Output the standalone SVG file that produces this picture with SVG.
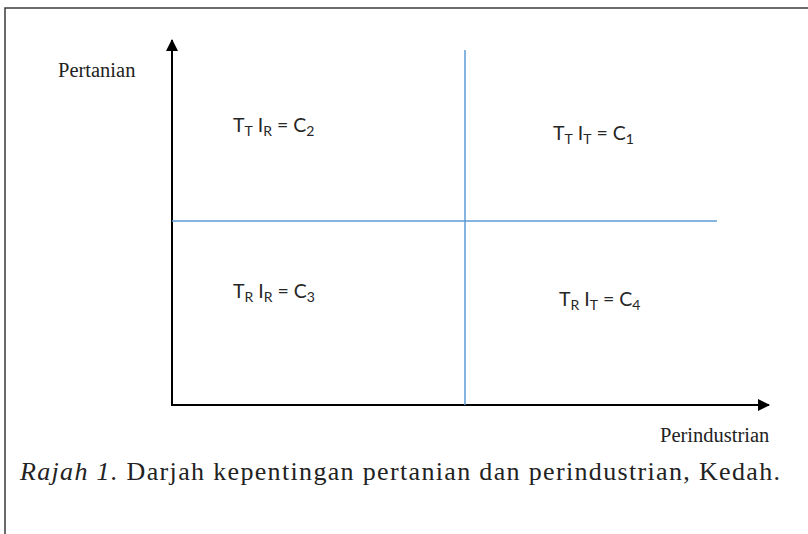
<svg xmlns="http://www.w3.org/2000/svg" width="808" height="534" viewBox="0 0 808 534">
<style>
.frame{fill:none;stroke:#3a3a3a;stroke-width:1.5}
.axis{stroke:#000;stroke-width:2;fill:none}
.quad{stroke:#5b9bd5;stroke-width:1.5;fill:none}
.lbl{font-family:"Liberation Serif",serif;font-size:20.5px;fill:#222}
.math{font-family:Lato,"Liberation Sans",sans-serif;font-size:19.5px;fill:#262626}
.sub{font-size:14px}
.cap{font-family:"Liberation Serif",serif;font-size:26px;fill:#222}
</style>
<defs>
<marker id="arr" viewBox="0 0 12 12" refX="11" refY="6" markerWidth="12" markerHeight="12" markerUnits="userSpaceOnUse" orient="auto">
<path d="M0,0 L12,6 L0,12 z" fill="#000"/>
</marker>
</defs>
<path class="frame" d="M5,540 L5,8 L815,8"/>
<g id="connectors">
<line class="axis" x1="172" y1="405" x2="172" y2="40" marker-end="url(#arr)"/>
<line class="axis" x1="171" y1="405" x2="769" y2="405" marker-end="url(#arr)"/>
<line class="quad" x1="465" y1="50" x2="465" y2="405"/>
<line class="quad" x1="172" y1="221" x2="717" y2="221"/>
</g>
<g id="axis-y-label"><text class="lbl" x="58" y="77">Pertanian</text></g>
<g id="axis-x-label"><text class="lbl" x="660" y="442">Perindustrian</text></g>
<g id="c2"><text class="math" x="233" y="132">T<tspan class="sub" dy="4">T</tspan><tspan dy="-4"> I</tspan><tspan class="sub" dy="4">R</tspan><tspan dy="-4"> = C</tspan><tspan class="sub" dy="4">2</tspan></text></g>
<g id="c1"><text class="math" x="553" y="140">T<tspan class="sub" dy="4">T</tspan><tspan dy="-4"> I</tspan><tspan class="sub" dy="4">T</tspan><tspan dy="-4"> = C</tspan><tspan class="sub" dy="4">1</tspan></text></g>
<g id="c3"><text class="math" x="233" y="298">T<tspan class="sub" dy="4">R</tspan><tspan dy="-4"> I</tspan><tspan class="sub" dy="4">R</tspan><tspan dy="-4"> = C</tspan><tspan class="sub" dy="4">3</tspan></text></g>
<g id="c4"><text class="math" x="559" y="306">T<tspan class="sub" dy="4">R</tspan><tspan dy="-4"> I</tspan><tspan class="sub" dy="4">T</tspan><tspan dy="-4">  = C</tspan><tspan class="sub" dy="4">4</tspan></text></g>
<g id="caption"><text class="cap" x="20" y="480" textLength="760" lengthAdjust="spacing"><tspan font-style="italic">Rajah 1.</tspan>  Darjah kepentingan pertanian dan perindustrian, Kedah.</text></g>
</svg>
